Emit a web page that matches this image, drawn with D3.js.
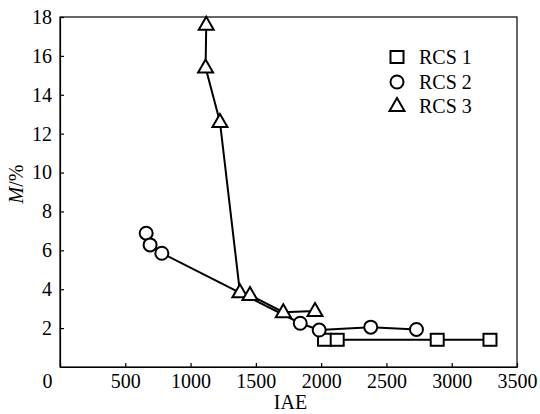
<!DOCTYPE html>
<html>
<head>
<meta charset="utf-8">
<script src="https://cdn.jsdelivr.net/npm/d3@7"></script>
<style>
  body { margin: 0; background: #fff; }
  svg { display: block; }
</style>
</head>
<body>
<div id="chart"></div>
<script>
// data
let rcs1X = [2026, 2123, 2889, 3293];
let rcs1Y = [1.4, 1.4, 1.4, 1.4];

let rcs2X = [660, 690, 780, 1840, 1985, 2380, 2730];
let rcs2Y = [6.88, 6.28, 5.85, 2.25, 1.9, 2.05, 1.93];

let rcs3X = [1120, 1115, 1225, 1378, 1455, 1710, 1953];
let rcs3Y = [17.6, 15.4, 12.6, 3.85, 3.7, 2.82, 2.88];

let xTicks = [0, 500, 1000, 1500, 2000, 2500, 3000, 3500];
let yTicks = [2, 4, 6, 8, 10, 12, 14, 16, 18];
let seriesNames = ["RCS 1", "RCS 2", "RCS 3"];

let serif = '"Liberation Serif", serif';

let svgWidth = 540;
let svgHeight = 414;
let margin = {top: 17, right: 23, bottom: 47, left: 60};
let chartWidth = svgWidth - margin.left - margin.right;
let chartHeight = svgHeight - margin.top - margin.bottom;

let svg = d3.select("#chart")
    .append("svg")
    .attr("width", svgWidth)
    .attr("height", svgHeight);

let chartGroup = svg.append("g")
    .attr("transform", `translate(${margin.left}, ${margin.top})`);

let xScale = d3.scaleLinear().domain([0, 3500]).range([0, chartWidth]);
let yScale = d3.scaleLinear().domain([0, 18]).range([chartHeight, 0]);

// frame
chartGroup.append("rect")
    .attr("width", chartWidth)
    .attr("height", chartHeight)
    .attr("fill", "none")
    .attr("stroke", "#000")
    .attr("stroke-width", 1.2);

//axes, ticks point inward
let bottomAxis = d3.axisBottom(xScale)
    .tickValues(xTicks)
    .tickSizeInner(-4)
    .tickSizeOuter(0)
    .tickPadding(7)
    .tickFormat(d3.format("d"));
let leftAxis = d3.axisLeft(yScale)
    .tickValues(yTicks)
    .tickSizeInner(-4)
    .tickSizeOuter(0)
    .tickPadding(8)
    .tickFormat(d3.format("d"));

let xAxis = chartGroup.append("g")
    .attr("transform", `translate(0, ${chartHeight})`)
    .call(bottomAxis);
let yAxis = chartGroup.append("g")
    .call(leftAxis);

[xAxis, yAxis].forEach(ax => {
    ax.selectAll("path").attr("stroke", "#000").attr("stroke-width", 1.2);
    ax.selectAll("line").attr("stroke", "#000").attr("stroke-width", 1.2);
    ax.selectAll("text")
        .attr("fill", "#000")
        .style("font-family", serif)
        .style("font-size", "20px");
});
// origin label sits left of the corner
xAxis.selectAll(".tick text").filter(d => d === 0).attr("dx", "-13");

// axis titles
svg.append("text")
    .attr("x", margin.left + chartWidth / 2 + 2)
    .attr("y", 409)
    .attr("text-anchor", "middle")
    .style("font-family", serif)
    .style("font-size", "20px")
    .text("IAE");

let yTitle = svg.append("text")
    .attr("transform", "rotate(-90)")
    .attr("x", -184)
    .attr("y", 23)
    .attr("text-anchor", "middle")
    .style("font-family", serif)
    .style("font-size", "20px");
yTitle.append("tspan").style("font-style", "italic").text("M");
yTitle.append("tspan").text("/%");

// markers
let triPath = "M0,-8L7.5,5L-7.5,5Z";
function drawMarker(g, kind) {
    if (kind === 0) {
        g.append("rect").attr("x", -6.5).attr("y", -6).attr("width", 13).attr("height", 12);
    } else if (kind === 1) {
        g.append("circle").attr("r", 6.5);
    } else {
        g.append("path").attr("d", triPath);
    }
    g.selectAll("*")
        .attr("fill", "#fff")
        .attr("stroke", "#000")
        .attr("stroke-width", 2);
}

let line = d3.line()
    .x(d => xScale(d[0]))
    .y(d => yScale(d[1]));

let allSeries = [
    d3.zip(rcs1X, rcs1Y),
    d3.zip(rcs2X, rcs2Y),
    d3.zip(rcs3X, rcs3Y)
];

allSeries.forEach(pts => {
    chartGroup.append("path")
        .datum(pts)
        .attr("d", line)
        .attr("fill", "none")
        .attr("stroke", "#000")
        .attr("stroke-width", 2);
});

allSeries.forEach((pts, i) => {
    pts.forEach(p => {
        let g = chartGroup.append("g")
            .attr("transform", `translate(${xScale(p[0])}, ${yScale(p[1])})`);
        drawMarker(g, i);
    });
});

// legend
let legendRows = [57, 82, 106];
seriesNames.forEach((name, i) => {
    let g = svg.append("g").attr("transform", `translate(397, ${legendRows[i]})`);
    drawMarker(g, i);
    g.append("text")
        .attr("x", 22)
        .attr("dy", "0.35em")
        .style("font-family", serif)
        .style("font-size", "20px")
        .text(name);
});
</script>
</body>
</html>
